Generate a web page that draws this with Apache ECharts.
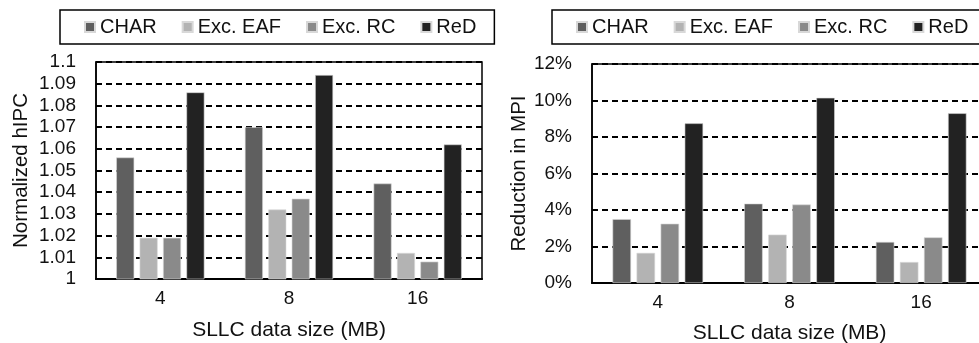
<!DOCTYPE html>
<html>
<head>
<meta charset="utf-8">
<script src="https://cdn.jsdelivr.net/npm/echarts@6/dist/echarts.min.js"></script>
<style>
html,body{margin:0;padding:0;background:#fff;}
#chart{width:979px;height:343px;}
</style>
</head>
<body>
<div id="chart"></div>
<script>
// ---- Data ----
const categories = ['4', '8', '16'];
const seriesNames = ['CHAR', 'Exc. EAF', 'Exc. RC', 'ReD'];
const seriesColors = ['#5f5f5f', '#b3b3b3', '#8a8a8a', '#222222'];

// Left chart: Normalized hIPC
const hipcCHAR = [1.056, 1.070, 1.044];
const hipcEAF  = [1.019, 1.032, 1.012];
const hipcRC   = [1.019, 1.037, 1.008];
const hipcReD  = [1.086, 1.094, 1.062];

// Right chart: Reduction in MPI (%)
const mpiCHAR = [3.5, 4.35, 2.25];
const mpiEAF  = [1.65, 2.65, 1.15];
const mpiRC   = [3.25, 4.3, 2.5];
const mpiReD  = [8.75, 10.15, 9.3];

const leftTickLabels = ['1','1.01','1.02','1.03','1.04','1.05','1.06','1.07','1.08','1.09','1.1'];
const rightTickLabels = ['0%','2%','4%','6%','8%','10%','12%'];

const FONT = "'Liberation Sans', Arial, Helvetica, sans-serif";
const leftData = [hipcCHAR, hipcEAF, hipcRC, hipcReD];
const rightData = [mpiCHAR, mpiEAF, mpiRC, mpiReD];

function legendCfg(left) {
  return {
    left: left, top: 10, width: 600,
    orient: 'horizontal',
    data: seriesNames,
    icon: 'rect', itemWidth: 10, itemHeight: 10, itemGap: 25,
    borderColor: '#000', borderWidth: 1.5, borderRadius: 0,
    padding: [7, 18, 7, 24],
    textStyle: { fontFamily: FONT, fontSize: 20, color: '#111' },
    selectedMode: false
  };
}

function yAxisCfg(gridIndex, min, max, interval, labels, name, nameGap) {
  return {
    gridIndex: gridIndex, type: 'value', min: min, max: max, interval: interval,
    name: name, nameLocation: 'middle', nameGap: nameGap,
    nameTextStyle: { fontFamily: FONT, fontSize: 20.5, color: '#111' },
    axisLine: { show: true, lineStyle: { color: '#000', width: 1.5 } },
    axisTick: { show: false },
    axisLabel: {
      fontFamily: FONT, fontSize: 19, color: '#111', margin: 20,
      formatter: function (v) { return labels[Math.round((v - min) / interval)]; }
    },
    splitLine: { show: true, lineStyle: { color: '#000', width: 2, type: [6, 4] } }
  };
}

function xAxisCfg(gridIndex, labelMargin, nameGap) {
  return {
    gridIndex: gridIndex, type: 'category', data: categories,
    name: 'SLLC data size (MB)', nameLocation: 'middle', nameGap: nameGap,
    nameTextStyle: { fontFamily: FONT, fontSize: 21, color: '#111' },
    axisLine: { show: true, lineStyle: { color: '#000', width: 2 } },
    axisTick: { show: false },
    axisLabel: { fontFamily: FONT, fontSize: 19, color: '#111', margin: labelMargin },
    splitLine: { show: false }
  };
}

const series = [];
seriesNames.forEach(function (n, i) {
  series.push({
    name: n, type: 'bar', xAxisIndex: 0, yAxisIndex: 0,
    data: leftData[i], barWidth: 18, barGap: '30%',
    itemStyle: { color: seriesColors[i], borderColor: '#d8d8d8', borderWidth: 0.6 },
    z: 3
  });
  series.push({
    name: n, type: 'bar', xAxisIndex: 1, yAxisIndex: 1,
    data: rightData[i], barWidth: 18.5, barGap: '30%',
    itemStyle: { color: seriesColors[i], borderColor: '#d8d8d8', borderWidth: 0.6 },
    z: 3
  });
});

const option = {
  animation: false,
  backgroundColor: '#fff',
  legend: [legendCfg(60), legendCfg(552)],
  grid: [
    { left: 96, width: 386, top: 62, height: 217, outerBoundsMode: 'none', containLabel: false,
      show: true, borderColor: '#000', borderWidth: 1.5, backgroundColor: 'transparent' },
    { left: 592, width: 395, top: 64, height: 219, outerBoundsMode: 'none', containLabel: false,
      show: true, borderColor: '#000', borderWidth: 1.5, backgroundColor: 'transparent' }
  ],
  xAxis: [xAxisCfg(0, 10, 41), xAxisCfg(1, 10, 40)],
  yAxis: [
    yAxisCfg(0, 1, 1.1, 0.01, leftTickLabels, 'Normalized hIPC', 64),
    yAxisCfg(1, 0, 12, 2, rightTickLabels, 'Reduction in MPI', 60)
  ],
  series: series
};

const chart = echarts.init(document.getElementById('chart'), null, { renderer: 'canvas' });
chart.setOption(option);
</script>
</body>
</html>
